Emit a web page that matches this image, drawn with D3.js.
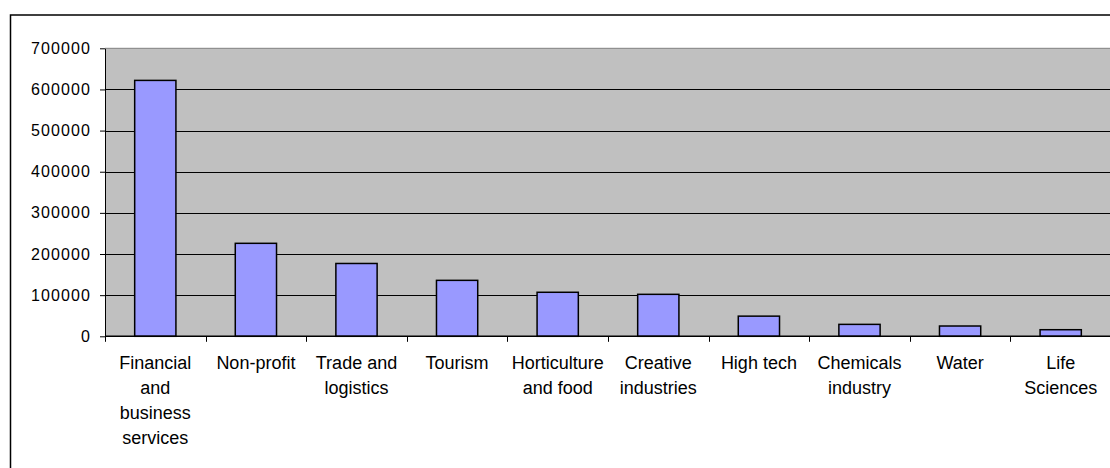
<!DOCTYPE html>
<html>
<head>
<meta charset="utf-8">
<script src="https://cdn.jsdelivr.net/npm/d3@7"></script>
<style>
  html, body { margin: 0; padding: 0; background: #ffffff; }
  svg { display: block; }
  text { font-family: "Liberation Sans", Arial, sans-serif; fill: #000; }
</style>
</head>
<body>
<svg id="chart" width="1110" height="468"></svg>
<script>
// Employment by sector
const categories = [
  "Financial and business services",
  "Non-profit",
  "Trade and logistics",
  "Tourism",
  "Horticulture and food",
  "Creative industries",
  "High tech",
  "Chemicals industry",
  "Water",
  "Life Sciences"
];
const values = [622000, 226000, 177000, 136000, 107000, 102000, 49000, 29000, 25000, 16000];
const yTicks = [0, 100000, 200000, 300000, 400000, 500000, 600000, 700000];

const svg = d3.select("#chart");
const W = 1110, H = 468;
const plot = { left: 105, right: 1111, top: 48.3, bottom: 336.3 };

// outer chart frame
svg.append("rect")
  .attr("x", 10.5).attr("y", 15)
  .attr("width", W + 20).attr("height", H + 20)
  .attr("fill", "#fff").attr("stroke", "#000").attr("stroke-width", 1.5);

const x = d3.scaleBand()
  .domain(categories)
  .range([plot.left, plot.right])
  .paddingInner(0.59)
  .paddingOuter(0.295);

const y = d3.scaleLinear()
  .domain([0, 700000])
  .range([plot.bottom, plot.top]);

// plot background
svg.append("rect")
  .attr("x", plot.left).attr("y", plot.top)
  .attr("width", plot.right - plot.left).attr("height", plot.bottom - plot.top)
  .attr("fill", "#c0c0c0");

// top edge of plot area
svg.append("line")
  .attr("x1", plot.left).attr("x2", plot.right)
  .attr("y1", y(700000)).attr("y2", y(700000))
  .attr("stroke", "#808080").attr("stroke-width", 1);

// horizontal gridlines
svg.append("g")
  .selectAll("line")
  .data(yTicks.filter(d => d > 0 && d < 700000))
  .join("line")
  .attr("x1", plot.left).attr("x2", plot.right)
  .attr("y1", d => Math.round(y(d)) + 0.5).attr("y2", d => Math.round(y(d)) + 0.5)
  .attr("stroke", "#000").attr("stroke-width", 1);

// bars
svg.append("g")
  .selectAll("rect")
  .data(values)
  .join("rect")
  .attr("x", (d, i) => x(categories[i]))
  .attr("y", d => y(d))
  .attr("width", x.bandwidth())
  .attr("height", d => y(0) - y(d))
  .attr("fill", "#9999ff")
  .attr("stroke", "#000")
  .attr("stroke-width", 1.5);

// y axis
const yAxis = d3.axisLeft(y)
  .tickValues(yTicks)
  .tickFormat(d3.format("d"))
  .tickSizeInner(5)
  .tickSizeOuter(0)
  .tickPadding(9);
const gy = svg.append("g")
  .attr("transform", `translate(${plot.left},0)`)
  .call(yAxis);
gy.select(".domain").attr("stroke", "#000").attr("stroke-width", 1);
gy.selectAll(".tick line").attr("stroke", "#000");
gy.selectAll(".tick text")
  .attr("font-size", 16)
  .attr("letter-spacing", "1.1px")
  .attr("font-family", "Liberation Sans, Arial, sans-serif")
  .attr("fill", "#000");

// x axis baseline with ticks at category boundaries
const gx = svg.append("g");
gx.append("line")
  .attr("x1", plot.left).attr("x2", plot.right)
  .attr("y1", y(0)).attr("y2", y(0))
  .attr("stroke", "#000").attr("stroke-width", 1.5);
const step = x.step();
const boundaries = d3.range(categories.length + 1).map(i => x(categories[0]) - x.paddingOuter() * step + i * step);
gx.selectAll("line.tick")
  .data(boundaries)
  .join("line")
  .attr("class", "tick")
  .attr("x1", d => Math.round(d) + 0.5).attr("x2", d => Math.round(d) + 0.5)
  .attr("y1", y(0)).attr("y2", y(0) + 5.5)
  .attr("stroke", "#000").attr("stroke-width", 1);

// category labels, wrapped to the category width
const labelSize = 18, lineGap = 25, firstBaseline = 369.3, maxW = step - 2;
const labels = svg.append("g");
categories.forEach((name, i) => {
  const cx = x(name) + x.bandwidth() / 2;
  const t = labels.append("text")
    .attr("x", cx).attr("y", firstBaseline)
    .attr("text-anchor", "middle")
    .attr("font-size", labelSize);
  const words = name.split(" ");
  let line = [], lineNo = 0;
  let tspan = t.append("tspan").attr("x", cx).attr("y", firstBaseline);
  words.forEach(w => {
    line.push(w);
    tspan.text(line.join(" "));
    if (tspan.node().getComputedTextLength() > maxW && line.length > 1) {
      line.pop();
      tspan.text(line.join(" "));
      line = [w];
      lineNo++;
      tspan = t.append("tspan").attr("x", cx).attr("y", firstBaseline + lineNo * lineGap).text(w);
    }
  });
});
</script>
</body>
</html>
